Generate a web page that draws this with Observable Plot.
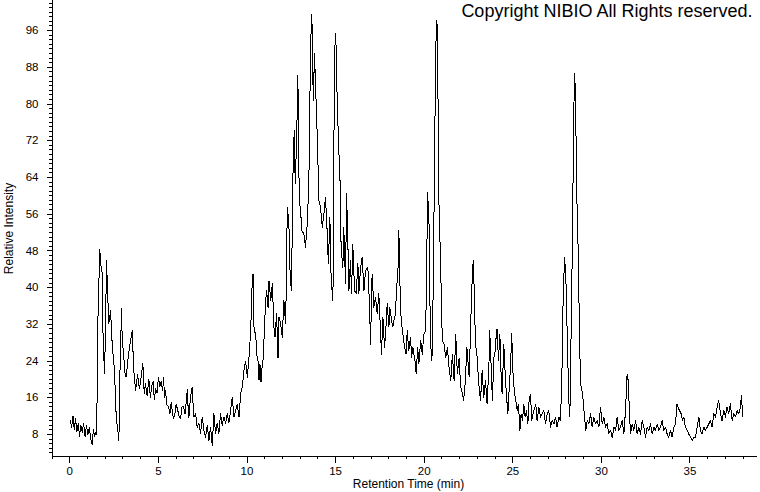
<!DOCTYPE html>
<html><head><meta charset="utf-8">
<script src="https://cdn.jsdelivr.net/npm/d3@7"></script>
<script src="https://cdn.jsdelivr.net/npm/@observablehq/plot@0.6"></script>
<style>
html,body{margin:0;padding:0;background:#fff;}
#chart{position:relative;width:760px;height:492px;overflow:hidden;background:#fff;}
#chart svg path, #chart svg line{shape-rendering:crispEdges;}
</style></head><body><div id="chart"></div>
<script>
const copyright = "Copyright NIBIO All Rights reserved.";
const xLabel = "Retention Time (min)";
const yLabel = "Relative Intensity";
const xTickLabels = [0, 5, 10, 15, 20, 25, 30, 35];
const yTickLabels = [8, 16, 24, 32, 40, 48, 56, 64, 72, 80, 88, 96];

// [retention time (min), relative intensity]
const baseline = [[0.03,11],[0.1,9.5],[0.18,12],[0.25,9],[0.32,11.5],[0.4,8.5],[0.48,10.5],[0.55,7.5],[0.62,10],[0.7,8.5],[0.78,10.5],[0.86,7.5],[0.94,10],[1.02,8],[1.1,9.5],[1.18,7],[1.26,5.8],[1.33,9],[1.4,7.5],[1.47,8.5]];
const earlyPeaks = [[1.5,8],[1.56,19.8],[1.58,32],[1.69,48.4],[1.75,45],[1.83,43],[1.88,28.5],[1.96,21.3],[2.01,30],[2.07,45.9],[2.13,39.3],[2.2,32.1],[2.3,35],[2.39,27.8],[2.52,21.9],[2.62,11.7],[2.69,9.5],[2.77,6.7],[2.82,20],[2.92,35.4],[2.96,28],[3.03,26],[3.1,21.5],[3.18,20.5],[3.3,25],[3.41,28],[3.52,30.6],[3.61,22],[3.71,17.6],[3.82,21],[3.93,18],[4.03,20.5],[4.12,23.5],[4.2,17],[4.27,19],[4.36,16.5],[4.46,20],[4.55,16],[4.62,18.5],[4.7,19.5],[4.77,15.5],[4.84,18],[4.92,17],[5.0,20.5],[5.08,18.5],[5.16,19.5],[5.24,17.5],[5.29,20.4],[5.35,16],[5.4,17.6],[5.48,14.5],[5.57,14],[5.65,12.5],[5.72,15],[5.78,13.2],[5.85,11.5],[5.91,12],[6.0,14.5],[6.08,13.5],[6.16,12],[6.25,11.5],[6.33,14],[6.42,14],[6.5,12.5],[6.57,15],[6.63,17.8],[6.68,13.5],[6.72,11.7]];
const mainHump = [[6.81,16.1],[6.9,18.3],[7.0,11.8],[7.1,12.5],[7.19,9.6],[7.28,10.5],[7.38,8.2],[7.47,11.8],[7.57,8.9],[7.66,7.4],[7.76,10],[7.85,6.7],[7.94,9.6],[8.04,5.6],[8.13,12.5],[8.23,8.2],[8.32,10.5],[8.41,8.2],[8.51,12.5],[8.6,10],[8.7,11.8],[8.79,10.5],[8.89,12.5],[8.98,10.5],[9.07,13.2],[9.17,16.1],[9.26,11.8],[9.36,13.2],[9.45,14.6],[9.55,11.8],[9.64,16.8],[9.73,18.3],[9.83,22],[9.92,24],[10.02,20.5],[10.11,24.7],[10.21,30.6],[10.27,39.3],[10.34,43],[10.4,30.6],[10.49,29.9],[10.55,25.5],[10.62,24],[10.68,19.8],[10.73,23.4],[10.79,19.4],[10.85,22.7],[10.92,24.7],[11.0,32.8],[11.07,37.9],[11.11,39.3],[11.19,35.7],[11.24,41.5],[11.34,37.2],[11.43,40.8],[11.52,31.4],[11.58,29.2],[11.67,34.3],[11.75,24.7],[11.8,33.6],[11.9,32.1],[11.99,29.2],[12.08,37.2],[12.18,32.1],[12.24,45.9],[12.27,57.5],[12.36,54.6],[12.42,44.4],[12.5,39.3],[12.55,50.9],[12.61,69.1],[12.67,74.2],[12.72,62.6],[12.8,72],[12.87,86.2],[12.95,59],[13.02,56.8],[13.1,52.4],[13.21,51.7],[13.3,48.8],[13.4,53.9],[13.49,62.9],[13.59,93.1],[13.66,99.6],[13.74,80.8],[13.81,91],[13.87,83.7],[13.96,73.5],[14.06,59],[14.15,57.5],[14.25,53.1],[14.34,56.1],[14.43,59.7],[14.53,51.7],[14.59,45.2],[14.68,55.3]];
const middleTail = [[14.71,45.2],[14.81,38.7],[14.85,37.2],[14.9,70.6],[14.96,92.4],[15.01,95.3],[15.09,80.8],[15.18,69.8],[15.24,65.5],[15.31,48.8],[15.41,44.4],[15.46,53.2],[15.56,40.8],[15.62,60.4],[15.69,50.2],[15.75,39.3],[15.84,45.9],[15.9,38.7],[15.97,49.5],[16.07,39.3],[16.16,38.7],[16.26,45.2],[16.31,38.7],[16.41,44.4],[16.5,46.6],[16.6,39.3],[16.69,43.7],[16.82,44.4],[16.92,35.7],[16.97,27.7],[17.06,43],[17.16,35.7],[17.25,37.9],[17.35,34.3],[17.44,38.7],[17.5,33.6],[17.59,25.5],[17.67,33.6],[17.76,27],[17.82,29.9],[17.91,36.5],[18.01,31.4],[18.06,35.7],[18.16,32.8],[18.23,31.4],[18.29,32.8],[18.38,34.3],[18.44,40.1],[18.51,42.3],[18.57,52.4],[18.63,40.8],[18.7,32.8],[18.8,29.9],[18.89,27],[18.98,25.5],[19.04,30.6],[19.13,26.3],[19.23,29.2],[19.29,24.7],[19.36,27],[19.48,24],[19.55,21.2],[19.63,27],[19.7,23.4],[19.8,28.5],[19.89,25.5],[19.98,29.9],[20.08,30.6],[20.13,40.8],[20.19,60.8],[20.27,54.6],[20.32,37.2],[20.4,24],[20.46,25.5],[20.53,47.4],[20.61,77.2],[20.66,93.1],[20.72,98.2],[20.78,80.8],[20.83,59],[20.93,44.4],[21.02,28.5],[21.12,27.7],[21.21,24.7],[21.31,27],[21.4,22.6],[21.5,19.7],[21.59,25.5],[21.69,19.7],[21.78,29.9],[21.87,21.2],[21.97,24.7],[22.06,18.3],[22.16,16.8],[22.22,15.4],[22.31,19],[22.41,27],[22.54,20.5],[22.63,32.8],[22.73,44.4],[22.78,45.9],[22.86,32.8]];
const lateSection = [[22.9,27.7],[22.99,24.7],[23.08,19],[23.18,15.4],[23.27,22],[23.36,16.1],[23.46,19.8],[23.55,14.6],[23.65,22.6],[23.7,30.6],[23.78,22.6],[23.85,15.4],[23.93,24.7],[24.01,26.2],[24.08,30.6],[24.12,31],[24.19,24],[24.27,29.9],[24.35,19.7],[24.4,16.8],[24.49,27.7],[24.57,21.2],[24.64,16.8],[24.72,12.5],[24.8,18.3],[24.87,22.6],[24.94,29.9],[25.02,20.5],[25.1,16.8],[25.17,15.4],[25.25,13.2],[25.32,14.6],[25.4,8.9],[25.47,12.5],[25.55,11],[25.62,14.6],[25.7,11.8],[25.77,13.2],[25.85,10.3],[25.92,15.4],[26.0,16.8],[26.07,11],[26.18,13.2],[26.3,14.6],[26.37,11],[26.47,13.9],[26.56,11.8],[26.66,12.5],[26.75,13.2],[26.85,10.3],[26.94,12.5],[27.03,13.2],[27.13,9.6],[27.22,11],[27.32,10.3],[27.41,11.8],[27.5,9.6],[27.6,11.8],[27.69,11],[27.77,20.5],[27.84,37.2],[27.92,46.6],[27.99,43],[28.07,29.9],[28.16,15.4],[28.22,11.8],[28.29,29.9],[28.37,51.7],[28.44,78.6],[28.5,86.6],[28.56,75],[28.63,56.8],[28.69,48],[28.75,33.5],[28.82,19],[28.9,17.6],[28.97,15.4],[29.05,11.8],[29.12,8.9],[29.2,11],[29.29,10.3],[29.39,12.5],[29.48,9.6],[29.57,11.8],[29.67,10.3],[29.76,11],[29.86,9.6],[29.95,13.9],[30.05,10.3],[30.14,11.8],[30.23,9.6],[30.33,10.3],[30.42,8.2],[30.52,8.9],[30.61,7.4],[30.71,9.6]];
const endSection = [[30.8,8.9],[30.89,11.8],[30.98,8.9],[31.08,9.6],[31.17,11],[31.27,8.1],[31.36,13.2],[31.45,21.2],[31.51,19.8],[31.59,12.5],[31.64,8.1],[31.74,10.3],[31.83,8.9],[31.93,11],[32.02,8.1],[32.11,9.6],[32.21,8.1],[32.3,11],[32.4,9.6],[32.49,7.4],[32.58,9.6],[32.68,8.9],[32.77,10.3],[32.87,8.1],[32.96,9.6],[33.05,8.9],[33.15,10.3],[33.24,8.9],[33.33,9.6],[33.43,11],[33.52,8.9],[33.62,9.6],[33.71,8.1],[33.8,7.4],[33.9,8.9],[33.99,7.4],[34.09,9.6],[34.18,10.3],[34.27,14.7],[34.33,13.9],[34.41,13.2],[34.5,12.5],[34.58,11],[34.65,11.8],[34.74,9.6],[34.84,8.9],[34.93,8.1],[35.03,7.4],[35.12,6.7],[35.21,7.4],[35.31,7.4],[35.4,9.6],[35.5,11.8],[35.59,8.9],[35.68,8.1],[35.78,9.6],[35.87,8.9],[35.97,9.6],[36.06,10.3],[36.15,11],[36.25,9.6],[36.34,12.5],[36.44,11.8],[36.53,13.9],[36.62,15.4],[36.72,12.5],[36.81,11],[36.91,13.2],[37.0,11.8],[37.09,13.9],[37.19,12.5],[37.28,14.7],[37.38,11],[37.47,12.5],[37.56,11.8],[37.66,13.2],[37.75,12.5],[37.85,13.9],[37.9,16.5],[37.98,11.8]];

const trace = [...baseline, ...earlyPeaks, ...mainHump, ...middleTail, ...lateSection, ...endSection]
  .map(([t, v]) => ({t, v}));

const xDomain = [-0.977, 38.81];
const yDomain = [3.2, 102.55];
const font = "'Liberation Sans', Arial, Helvetica, sans-serif";

const chart = Plot.plot({
  width: 760, height: 492,
  marginLeft: 52, marginRight: 3, marginTop: 0, marginBottom: 36,
  style: {fontFamily: font, fontSize: "11.5px", background: "#fff", color: "#000", overflow: "visible"},
  x: {domain: xDomain, axis: null, label: null},
  y: {domain: yDomain, axis: null, label: null},
  marks: [
    Plot.axisY(d3.range(4, 103), {tickSize: 3, tickFormat: () => "", label: null, stroke: "#000"}),
    Plot.axisY(yTickLabels, {tickSize: 5, tickPadding: 9, label: null, stroke: "#000", fill: "#000", fontSize: 11.5}),
    Plot.axisX(d3.range(-1, 39), {tickSize: 3, tickFormat: () => "", label: null, stroke: "#000"}),
    Plot.axisX(xTickLabels, {tickSize: 6.5, tickPadding: 3.5, label: null, stroke: "#000", fill: "#000", fontSize: 11.5}),
    Plot.ruleX([xDomain[0]], {stroke: "#000"}),
    Plot.ruleY([yDomain[0]], {stroke: "#000"}),
    Plot.line(trace, {x: "t", y: "v", stroke: "#000", strokeWidth: 1}),
    Plot.text([yLabel], {frameAnchor: "left", rotate: -90, dx: -43, textAnchor: "middle", lineAnchor: "middle", fontSize: 12, fill: "#000"}),
    Plot.text([xLabel], {frameAnchor: "bottom", dx: 3.5, dy: 28, textAnchor: "middle", lineAnchor: "middle", fontSize: 12, fill: "#000"}),
    Plot.text([copyright], {frameAnchor: "top-right", dx: -5, dy: 3.5, textAnchor: "end", lineAnchor: "top", fontSize: 18, fill: "#000"})
  ]
});
document.getElementById("chart").appendChild(chart);
</script>
</body></html>
